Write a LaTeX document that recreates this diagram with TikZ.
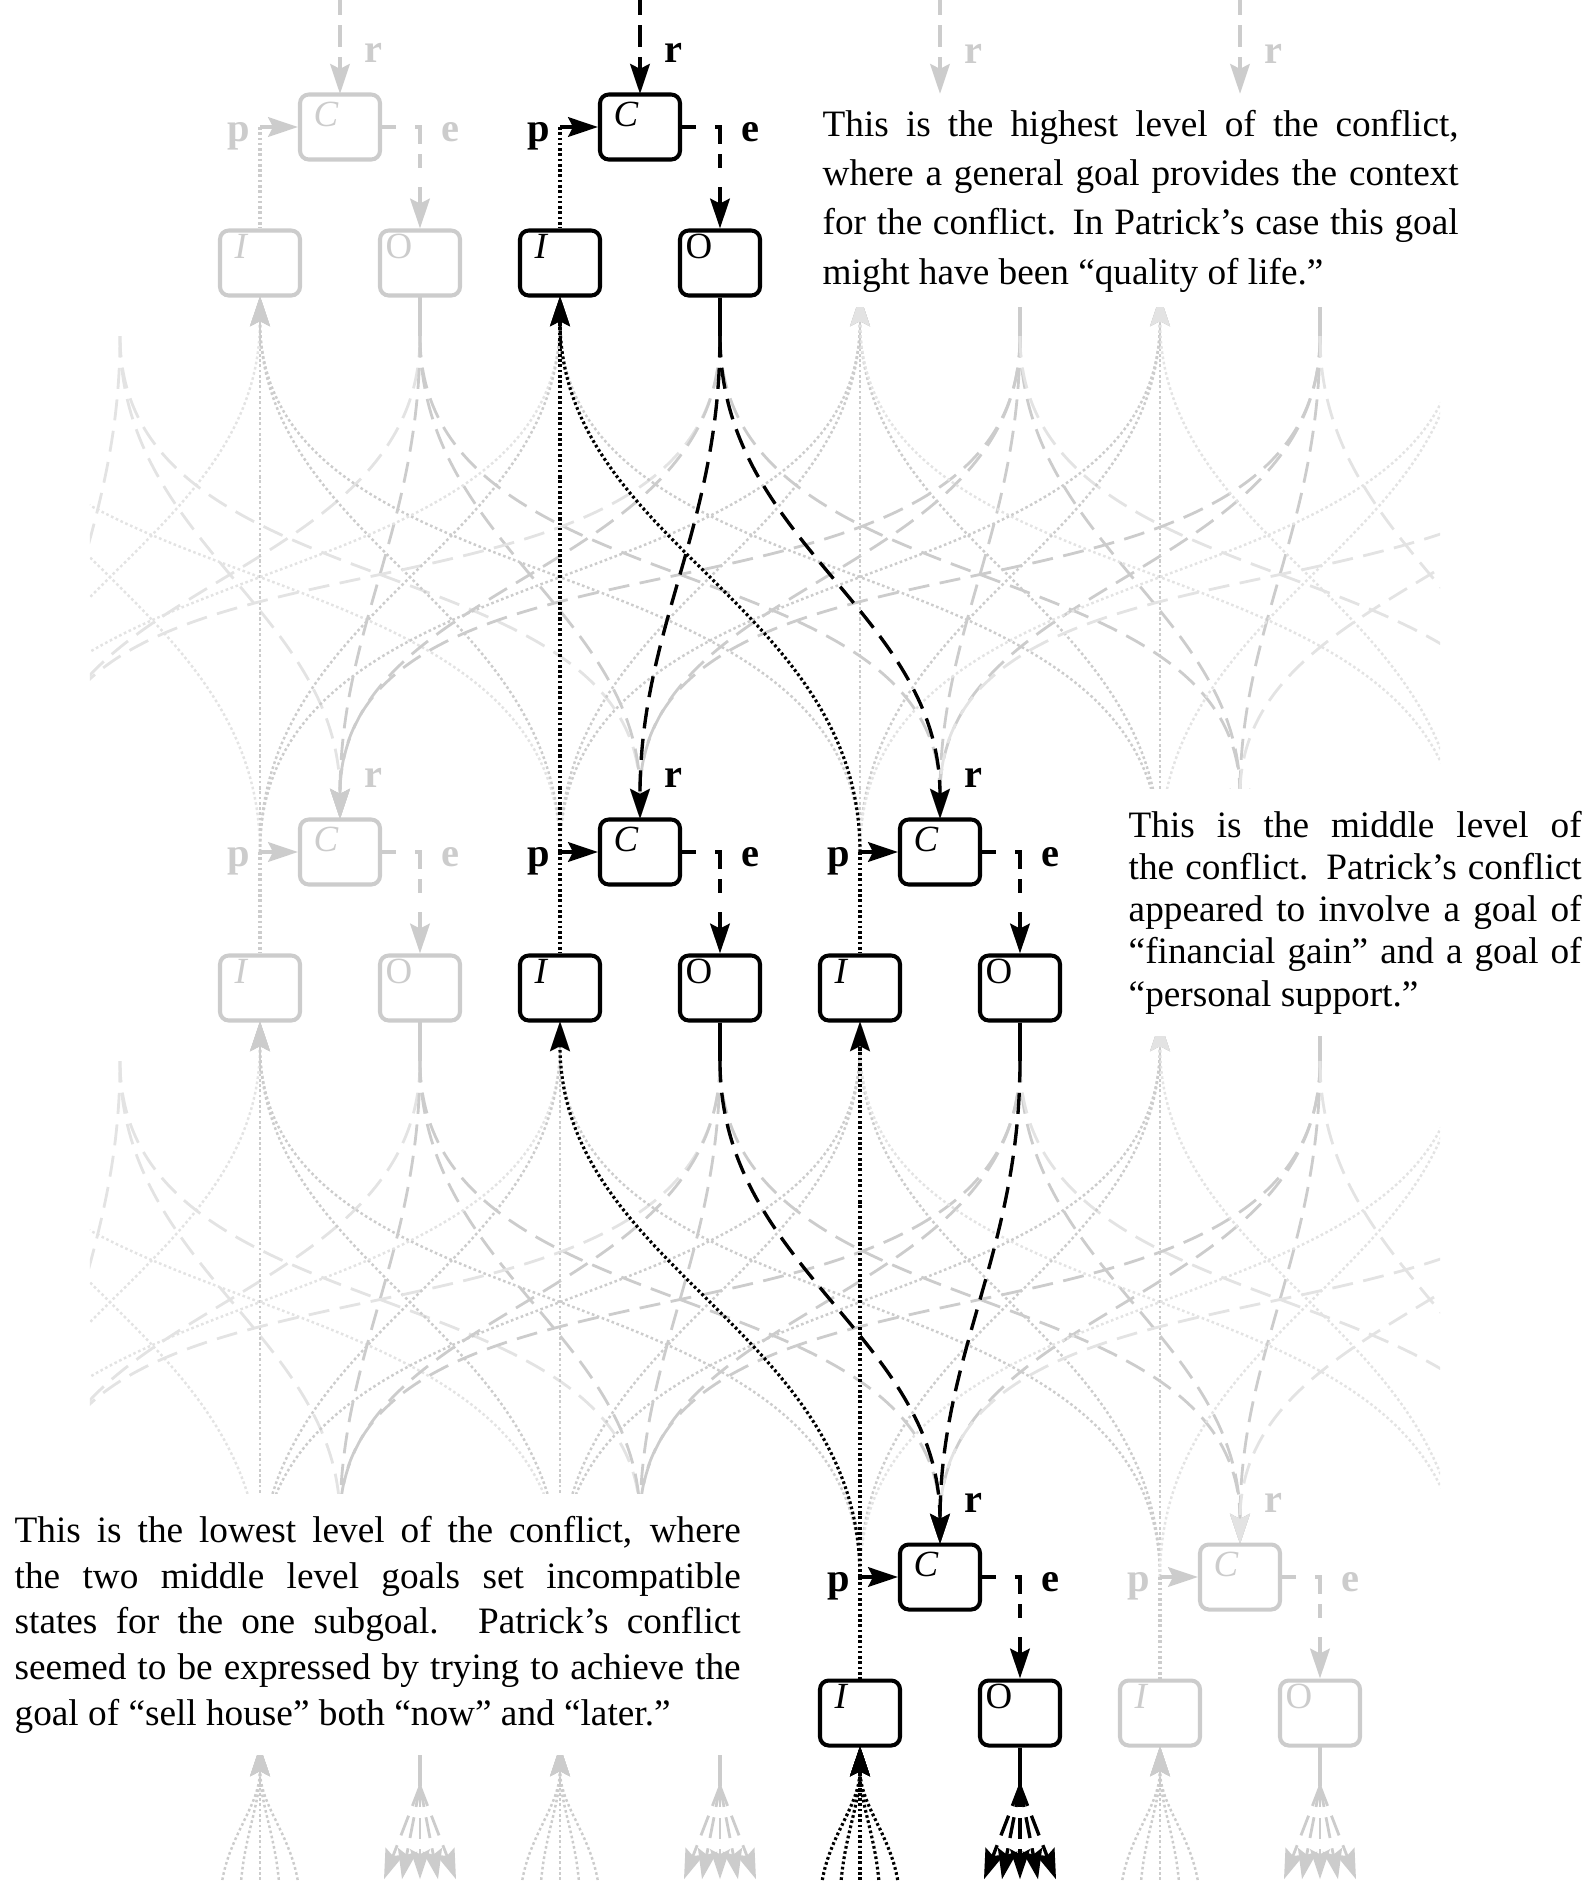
\documentclass[tikz,border=0pt]{standalone}
\usepackage{fontspec}
\setmainfont{Liberation Serif}
\usetikzlibrary{arrows.meta}
\definecolor{faint}{gray}{0.80}
\definecolor{fainter}{gray}{0.89}
\tikzset{
goalbox/.style={draw,fill=white,rounded corners=2.5pt,line width=1.15pt,minimum width=0.8cm,minimum height=0.65cm,inner sep=0pt},
spot/.style={minimum width=0.8cm,minimum height=0.65cm,inner sep=0pt},
boxchar/.style={anchor=north west,inner sep=0pt,font=\fontsize{10.5}{10.5}\selectfont},
portlabel/.style={inner sep=0pt,font=\fontsize{11.5}{11.5}\selectfont\bfseries},
arrowtip/.style={-{Stealth[length=8.5pt,width=5.6pt,inset=1.4pt]}},
pline/.style={line width=0.9pt,dash pattern=on 0.75pt off 0.75pt},
eline/.style={line width=0.95pt,dash pattern=on 6pt off 3pt},
eport/.style={line width=0.95pt,dash pattern=on 4pt off 5.5pt on 6pt off 3pt},
stem/.style={line width=0.95pt},
thin/.style={line width=0.7pt},
notebox/.style={anchor=north west,fill=white,inner xsep=0.2cm,inner ysep=0.22cm,align=justify,font=\fontsize{10.6}{#1}\selectfont}
}
\newcommand\flushtext{\tolerance=10000\hbadness=10000\hyphenpenalty=10000\relax}
\newcommand\goalunit[3]{%
\node[goalbox,draw=#3](C#1#2)at(\kxstep*#2+0.4,-\kystep*#1-\krow){};
\node[goalbox,draw=#3](I#1#2)at(\kxstep*#2-0.4,-\kystep*#1-\krow-\kgap){};
\node[goalbox,draw=#3](O#1#2)at(\kxstep*#2+1.2,-\kystep*#1-\krow-\kgap){};
\node[boxchar,text=#3](Ct#1#2)at([shift={(0.15,-0.09)}]C#1#2.north west){\textit{C}};
\node[boxchar,text=#3](It#1#2)at([shift={(0.16,-0.05)}]I#1#2.north west){\textit{I}};
\node[boxchar,text=#3](Ot#1#2)at([shift={(0.07,-0.05)}]O#1#2.north west){O};
\draw[pline,draw=#3](P#1#2)--(I#1#2.north);
\draw[stem,arrowtip,draw=#3](P#1#2)--(C#1#2.west);
\draw[eport,arrowtip,draw=#3](C#1#2.east)-|(O#1#2.north);
\draw[stem,draw=#3](O#1#2.south)--(Ob#1#2);
\node[portlabel,text=#3,anchor=base east](pl#1#2)at([shift={(-0.09,-0.14)}]P#1#2){p};
\node[portlabel,text=#3,anchor=base west](el#1#2)at([shift={(0.21,-0.14)}]E#1#2){e};
\node[portlabel,text=#3,anchor=base west](rl#1#2)at([shift={(0.24,0.3)}]C#1#2.north){r};
}
\begin{document}
\begin{tikzpicture}
\pgfmathsetmacro{\kxstep}{3}
\pgfmathsetmacro{\kystep}{7.25}
\pgfmathsetmacro{\krow}{1.27}
\pgfmathsetmacro{\kgap}{1.36}
\useasboundingbox(0,0)rectangle(15.87,-18.81);
\foreach \r in {0,1,2}{\foreach \j in {0,...,5}{
\node[spot](C\r\j)at(\kxstep*\j+0.4,-\kystep*\r-\krow){};
\node[spot](I\r\j)at(\kxstep*\j-0.4,-\kystep*\r-\krow-\kgap){};
\node[spot](O\r\j)at(\kxstep*\j+1.2,-\kystep*\r-\krow-\kgap){};
\coordinate(P\r\j)at(I\r\j|-C\r\j);
\coordinate(E\r\j)at(O\r\j|-C\r\j);
\coordinate(Ob\r\j)at([yshift=-0.4cm]O\r\j.south);}}
\begin{scope}
\clip(0.9,1)rectangle(14.4,-19.5);
\foreach \r/\s in {0/1,1/2}{\foreach \u in {0,...,5}{\foreach \d in {0,...,5}{
\pgfmathtruncatemacro{\kfar}{abs(\u-\d)}
\pgfmathtruncatemacro{\kedge}{(\u==0)||(\u==5)||(\d==0)||(\d==5)}
\ifnum\kfar<3
\ifnum\kedge=1\def\kcol{fainter}\else\def\kcol{faint}\fi
\draw[pline,thin,arrowtip,draw=\kcol](P\s\d)to[out=90,in=-90](I\r\u.south);
\draw[eline,line width=0.8pt,arrowtip,draw=\kcol](Ob\r\u)to[out=-90,in=90](C\s\d.north);
\fi}}}
\foreach \r in {0,1,2}{\foreach \j in {1,...,4}{\draw[stem,draw=faint](O\r\j.south)--(Ob\r\j);}}
\foreach \j in {1,...,4}{
\coordinate(Rin\j)at([yshift=1cm]C0\j.north);
\draw[eline,arrowtip,draw=faint](Rin\j)--(C0\j.north);
\foreach \dx [count=\k] in {-0.4,-0.2,0,0.2,0.4}{
\coordinate(If\j\k)at([shift={(\dx,-1.6)}]I2\j.south);
\coordinate(Of\j\k)at([shift={(0.9*\dx,-0.93)}]Ob2\j);
\draw[pline,thin,arrowtip,draw=faint](If\j\k)to[out=90,in=-90](I2\j.south);
\draw[eline,line width=0.8pt,arrowtip,draw=faint](Ob2\j)--(Of\j\k);}}
\end{scope}
\foreach \r/\j in {0/1,1/1,2/4}{\goalunit{\r}{\j}{faint}}
\foreach \j in {3,4}{\node[portlabel,text=faint,anchor=base west](rl0\j)at([shift={(0.24,0.3)}]C0\j.north){r};}
\node[notebox=14pt,text width=6.36cm,inner ysep=0.15cm](highnote)at(8.02,-0.945){\flushtext This is the highest level of the conflict,\linebreak where a general goal provides the context\linebreak for the conflict. In Patrick’s case this goal\linebreak might have been “quality of life.”};
\node[notebox=12pt,text width=4.53cm](midnote)at(11.08,-7.885){\flushtext This is the middle level of\linebreak the conflict. Patrick’s conflict\linebreak appeared to involve a goal of\linebreak “financial gain” and a goal of\linebreak “personal support.”};
\node[notebox=13pt,text width=7.26cm](lownote)at(-0.06,-14.935){\flushtext This is the lowest level of the conflict, where\linebreak the two middle level goals set incompatible\linebreak states for the one subgoal. Patrick’s conflict\linebreak seemed to be expressed by trying to achieve the\linebreak goal of “sell house” both “now” and “later.”};
\foreach \r/\u/\s/\d in {0/2/1/2,0/2/1/3,1/2/2/3,1/3/2/3}{
\draw[pline,arrowtip](P\s\d)to[out=90,in=-90](I\r\u.south);
\draw[eline,arrowtip](Ob\r\u)to[out=-90,in=90](C\s\d.north);}
\draw[eline,arrowtip](Rin2)--(C02.north);
\foreach \k in {1,...,5}{
\draw[pline,arrowtip](If3\k)to[out=90,in=-90](I23.south);
\draw[eline,arrowtip](Ob23)--(Of3\k);}
\foreach \r/\j in {0/2,1/2,1/3,2/3}{\goalunit{\r}{\j}{black}}
\end{tikzpicture}
\end{document}
